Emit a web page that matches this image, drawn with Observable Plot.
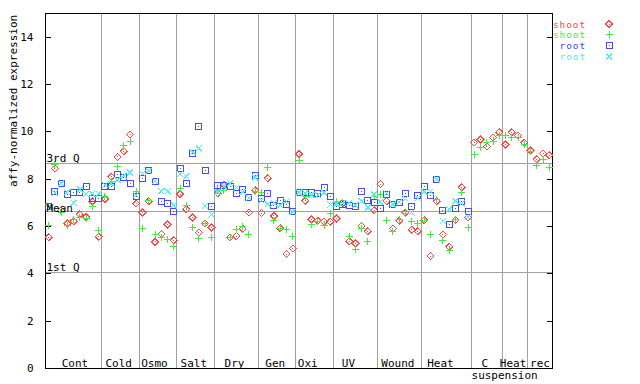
<!DOCTYPE html>
<html><head><meta charset="utf-8">
<script src="https://cdn.jsdelivr.net/npm/d3@7"></script>
<script src="https://cdn.jsdelivr.net/npm/@observablehq/plot@0.6"></script>
<style>
body{margin:0;background:#fff;}
#chart{width:640px;height:384px;}
</style></head><body><div id="chart"></div>
<script>
// ---- data ----
const groups = ["Cont","Cold","Osmo","Salt","Dry","Gen","Oxi","UV","Wound","Heat","C","Heat","rec"];
const groupSizes = [9,6,6,6,7,6,6,7,7,8,5,4,4];
const groupLabelAt = [5.2,12.2,17.9,24.2,30.7,37.2,42.4,48.9,56.8,63.6,70.7,75.2,79.5];
const subLabel = "suspension";
const subLabelAt = 73.85;
const yTicks = [0,2,4,6,8,10,12,14];
const yTitle = "affy-normalized expression";
const statLabels = ["3rd Q","Mean","1st Q"];
const statValues = [8.68, 6.65, 4.07];
const seriesNames = ["shoot","shoot","root","root"];

const shootA = [5.54,8.45,6.68,6.13,6.22,6.52,6.40,7.05,5.56,
  7.16,8.10,8.94,9.18,9.89,6.97,
  6.59,7.06,5.35,5.68,6.08,5.42,
  7.37,6.72,6.38,5.75,6.13,5.96,
  7.40,7.75,5.54,5.59,5.90,6.59,7.54,
  6.57,8.03,6.45,5.92,4.83,5.07,
  9.06,7.09,6.30,6.24,6.20,6.20,
  6.34,6.98,5.38,5.28,6.02,5.80,6.69,
  7.79,7.07,5.92,6.24,6.58,5.87,5.80,
  6.27,4.75,7.07,5.66,5.14,6.27,7.65,6.38,
  9.55,9.68,9.38,9.75,9.98,
  9.47,9.98,9.85,9.54,
  9.21,8.84,9.09,9.01];
const shootB = [6.06,8.63,6.59,6.06,6.30,6.38,6.33,6.85,5.85,
  7.25,7.89,8.52,9.41,9.61,7.47,
  5.92,7.11,5.66,5.54,5.47,5.14,
  7.61,6.89,5.96,5.49,6.13,5.54,
  7.56,7.54,5.52,5.87,5.98,5.66,7.47,
  7.45,8.49,6.25,5.90,5.87,5.57,
  8.80,7.28,6.09,6.20,6.03,6.55,
  7.04,7.02,5.56,5.03,5.92,5.38,7.25,
  7.35,6.27,5.78,6.31,6.55,6.20,6.13,
  6.27,5.66,7.14,5.42,5.00,6.30,7.44,5.96,
  9.06,9.34,9.55,9.60,9.85,
  9.85,9.78,9.77,9.48,
  9.18,8.59,8.83,8.49];
const rootA = [6.83,7.47,7.82,7.35,7.44,7.42,7.70,7.20,7.18,
  7.68,7.68,8.20,8.06,7.82,7.25,
  8.03,8.35,7.89,7.06,6.97,6.65,
  8.45,7.82,9.09,10.24,8.38,6.86,
  7.75,7.75,7.71,7.40,7.56,7.21,8.17,
  7.18,7.40,6.88,7.10,6.95,6.62,
  7.44,7.44,7.44,7.40,7.65,7.28,
  6.86,6.93,6.90,6.86,7.49,7.11,7.03,
  6.76,7.35,6.93,7.00,7.40,6.83,7.32,
  7.68,7.32,7.99,6.69,6.09,6.76,7.04,6.62];
const rootB = [6.80,7.42,7.82,7.45,7.00,7.56,7.37,7.38,7.38,
  7.75,7.80,7.96,8.15,8.28,7.33,
  8.24,8.35,7.93,7.49,7.49,6.90,
  8.21,8.13,9.14,9.30,6.86,6.51,
  7.46,7.70,7.82,7.65,7.47,7.21,8.07,
  7.10,6.95,7.00,6.90,7.06,6.62,
  7.44,7.40,7.33,7.33,7.44,6.93,
  6.95,7.00,7.00,6.90,7.07,6.80,7.35,
  7.04,7.40,6.93,7.04,7.18,6.59,7.21,
  7.47,7.47,7.99,6.23,6.72,7.07,6.97,6.41];

// ---- styling ----
const colors = ["#ff4848","#38f038","#4848ff","#48f0f0"];
const grid = "#a0a0a0";
const font = "'DejaVu Sans Mono', monospace";

const symDiamond = {draw(c){ c.moveTo(0,-3.5); c.lineTo(3.5,0); c.lineTo(0,3.5); c.lineTo(-3.5,0); c.closePath();
  c.moveTo(-0.5,0); c.lineTo(0.5,0); }};
const symPlus = {draw(c){ c.moveTo(-3.5,0); c.lineTo(3.5,0); c.moveTo(0,-3.5); c.lineTo(0,3.5); }};
const symSquare = {draw(c){ c.rect(-3,-3,6,6); c.moveTo(-0.5,0); c.lineTo(0.5,0); }};
const symTimes = {draw(c){ c.moveTo(-3,-3); c.lineTo(3,3); c.moveTo(-3,3); c.lineTo(3,-3); }};
const symbols = [symDiamond, symPlus, symSquare, symTimes];
const allSeries = [shootA, shootB, rootA, rootB];

const boundaries = d3.cumsum(groupSizes).slice(0, -1).map(d => d + 0.5);
const total = d3.sum(groupSizes);

const pointMarks = allSeries.map((vals, k) =>
  Plot.dot(vals, {x: (d, i) => i + 1, y: d => d, symbol: symbols[k], stroke: colors[k],
    strokeWidth: 1, shapeRendering: "crispEdges"}));

const plot = Plot.plot({
  width: 640, height: 384,
  marginLeft: 45, marginRight: 88, marginTop: 13, marginBottom: 16,
  x: {domain: [0.5, total + 0.5], axis: null},
  y: {domain: [0, 15], axis: null},
  style: {fontFamily: font, fontSize: "11px", background: "white", color: "black"},
  marks: [
    Plot.ruleX(boundaries, {stroke: grid, shapeRendering: "crispEdges"}),
    Plot.ruleY(statValues, {stroke: grid, shapeRendering: "crispEdges"}),
    Plot.frame({stroke: "black", shapeRendering: "crispEdges"}),
    Plot.tickY(yTicks, {y: d => d, stroke: "black", insetRight: 501.5, shapeRendering: "crispEdges"}),
    Plot.tickY(yTicks, {y: d => d, stroke: "black", insetLeft: 501.5, shapeRendering: "crispEdges"}),
    Plot.axisY({ticks: yTicks, anchor: "left", tickSize: 0, tickPadding: 12, label: null, fontSize: 11}),
    Plot.text([yTitle], {frameAnchor: "left", rotate: -90, dx: -32.5, dy: -4, fill: "black", fontSize: 11}),
    ...pointMarks,
    Plot.text(groups, {x: (d, i) => groupLabelAt[i], frameAnchor: "bottom", lineAnchor: "bottom", dy: -1.5, fill: "black", fontSize: 11}),
    Plot.text([subLabel], {x: () => subLabelAt, frameAnchor: "bottom", lineAnchor: "bottom", dy: 10, fill: "black", fontSize: 11}),
    Plot.text(statLabels.filter(d => d !== "Mean"), {y: d => statValues[statLabels.indexOf(d)], frameAnchor: "left", textAnchor: "start", lineAnchor: "bottom", dx: 1, dy: -1, fill: "black", fontSize: 11}),
    Plot.text(statLabels.filter(d => d === "Mean"), {y: d => statValues[statLabels.indexOf(d)], frameAnchor: "left", textAnchor: "start", lineAnchor: "bottom", dx: 1, dy: 0.5, fill: "black", fontSize: 11})
  ]
});
document.getElementById("chart").appendChild(plot);

// legend (right side)
const svg = d3.select(plot);
const lg = svg.append("g").attr("font-family", font).attr("font-size", 9.4).attr("letter-spacing", "0.95px");
seriesNames.forEach((name, k) => {
  const cy = 24 + k * 10.9;
  lg.append("text").attr("x", 586).attr("y", cy + 3.5).attr("text-anchor", "end").attr("fill", colors[k]).text(name);
  lg.append("path").attr("d", d3.symbol().type(symbols[k])()).attr("transform", `translate(609,${cy})`)
    .attr("fill", "none").attr("stroke", colors[k]).attr("shape-rendering", "crispEdges");
});
</script></body></html>
